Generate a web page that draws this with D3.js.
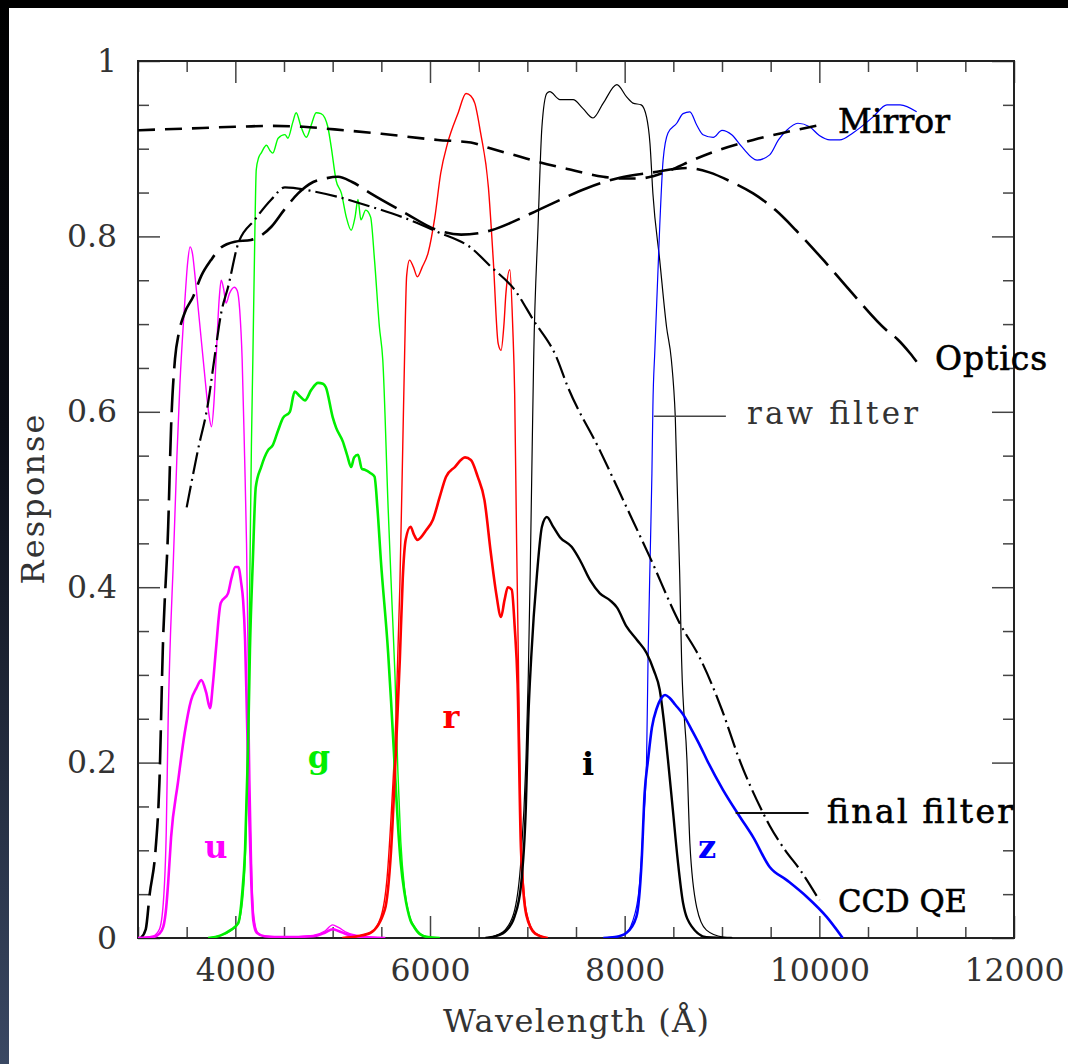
<!DOCTYPE html>
<html>
<head>
<meta charset="utf-8">
<script src="https://cdn.jsdelivr.net/npm/d3@7"></script>
<style>
  body { margin: 0; background: #fff; }
  svg { display: block; }
</style>
</head>
<body>
<svg id="chart" width="1068" height="1064"></svg>
<script>
// wavelength (Angstrom), response
const mirror = [[3000, 0.921], [3500, 0.923], [4000, 0.925], [4370, 0.926], [4700, 0.925], [5020, 0.922], [5500, 0.917],
    [6080, 0.910], [6420, 0.907], [6600, 0.901], [6920, 0.891], [7110, 0.885], [7450, 0.876], [7780, 0.868], [7950, 0.866],
    [8150, 0.866], [8300, 0.869], [8500, 0.877], [8700, 0.887], [8980, 0.899], [9320, 0.910], [9665, 0.919], [10000, 0.927]]

const optics = [[3030, 0.0], [3080, 0.01], [3120, 0.05], [3180, 0.10], [3220, 0.177], [3255, 0.33], [3310, 0.469], [3340, 0.583],
    [3380, 0.66], [3420, 0.69], [3480, 0.713], [3565, 0.731], [3650, 0.755], [3750, 0.773], [3850, 0.787], [3995, 0.794],
    [4160, 0.796], [4370, 0.811], [4500, 0.83], [4645, 0.849], [4800, 0.862], [4920, 0.866], [5055, 0.868], [5200, 0.862],
    [5390, 0.849], [5740, 0.827], [6080, 0.807], [6320, 0.802], [6630, 0.807], [6920, 0.820], [7110, 0.830], [7265, 0.838],
    [7610, 0.855], [7950, 0.867], [8290, 0.873], [8640, 0.878], [8870, 0.873], [9100, 0.862], [9320, 0.849], [9550, 0.83],
    [9760, 0.807], [10050, 0.772], [10340, 0.735], [10690, 0.693], [10800, 0.683], [10930, 0.667], [11000, 0.657]]

const ccdQE = [[3500, 0.491], [3615, 0.556], [3720, 0.61], [3790, 0.665], [3855, 0.713], [3925, 0.742], [4030, 0.792],
    [4200, 0.819], [4370, 0.842], [4510, 0.856], [4820, 0.851], [5055, 0.845], [5390, 0.834], [5740, 0.821], [6080, 0.805],
    [6420, 0.787], [6630, 0.765], [6870, 0.739], [7060, 0.705], [7300, 0.662], [7410, 0.63], [7745, 0.556], [8020, 0.491],
    [8260, 0.434], [8565, 0.359], [8770, 0.32], [9000, 0.26], [9180, 0.203], [9420, 0.143], [9490, 0.128], [9650, 0.10],
    [9800, 0.078], [10000, 0.043]]

const uRaw = [[3000, 0.0], [3150, 0.002], [3220, 0.01], [3260, 0.04], [3290, 0.12], [3310, 0.25], [3335, 0.35], [3360, 0.42],
    [3400, 0.55], [3430, 0.63], [3480, 0.724], [3510, 0.77], [3535, 0.788], [3560, 0.78], [3590, 0.75], [3630, 0.705],
    [3680, 0.648], [3725, 0.6], [3755, 0.583], [3780, 0.61], [3805, 0.667], [3835, 0.73], [3855, 0.750], [3880, 0.74],
    [3905, 0.724], [3940, 0.735], [3990, 0.742], [4020, 0.738], [4045, 0.716], [4070, 0.66], [4095, 0.55], [4115, 0.45],
    [4130, 0.33], [4150, 0.18], [4170, 0.07], [4190, 0.025], [4230, 0.006], [4300, 0.002], [4500, 0.001], [4800, 0.003],
    [4920, 0.008], [5000, 0.015], [5060, 0.012], [5150, 0.006], [5300, 0.002], [5540, 0.0]]
const uFinal = [[3000, 0.0], [3150, 0.001], [3220, 0.005], [3260, 0.013], [3290, 0.035], [3310, 0.063], [3340, 0.115],
    [3410, 0.177], [3480, 0.234], [3545, 0.271], [3600, 0.285], [3650, 0.294], [3700, 0.28], [3740, 0.262], [3770, 0.29],
    [3800, 0.328], [3850, 0.382], [3925, 0.393], [3960, 0.41], [4000, 0.423], [4030, 0.423], [4060, 0.405], [4080, 0.385],
    [4100, 0.34], [4120, 0.25], [4140, 0.15], [4165, 0.06], [4185, 0.02], [4220, 0.006], [4300, 0.002], [4500, 0.001],
    [4800, 0.002], [4920, 0.006], [5000, 0.010], [5060, 0.008], [5150, 0.004], [5300, 0.001], [5540, 0.0]]

const gRaw = [[3720, 0.0], [3850, 0.003], [3950, 0.008], [4030, 0.017], [4080, 0.05], [4110, 0.12], [4130, 0.25], [4150, 0.42],
    [4165, 0.56], [4180, 0.66], [4200, 0.80], [4215, 0.876], [4240, 0.89], [4265, 0.895], [4320, 0.904], [4355, 0.898],
    [4385, 0.895], [4440, 0.912], [4510, 0.916], [4540, 0.912], [4590, 0.93], [4625, 0.941], [4675, 0.925], [4730, 0.913],
    [4780, 0.927], [4830, 0.941], [4880, 0.94], [4920, 0.935], [4950, 0.925], [4985, 0.902], [5035, 0.864], [5090, 0.849],
    [5140, 0.822], [5190, 0.807], [5230, 0.822], [5260, 0.842], [5290, 0.819], [5340, 0.830], [5390, 0.822], [5430, 0.773],
    [5480, 0.697], [5515, 0.659], [5570, 0.49], [5610, 0.38], [5640, 0.30], [5670, 0.19], [5700, 0.11], [5740, 0.055],
    [5790, 0.025], [5840, 0.013], [5900, 0.005], [5980, 0.001], [6100, 0.0]]
const gFinal = [[3720, 0.0], [3850, 0.003], [3950, 0.009], [4030, 0.017], [4070, 0.05], [4100, 0.10], [4130, 0.214],
    [4150, 0.328], [4180, 0.431], [4210, 0.514], [4265, 0.537], [4335, 0.556], [4385, 0.562], [4440, 0.579], [4490, 0.593],
    [4560, 0.600], [4610, 0.623], [4660, 0.618], [4715, 0.613], [4780, 0.625], [4850, 0.633], [4900, 0.632], [4930, 0.628],
    [5000, 0.594], [5035, 0.582], [5105, 0.566], [5150, 0.55], [5190, 0.537], [5220, 0.548], [5260, 0.551], [5300, 0.535],
    [5330, 0.534], [5390, 0.530], [5430, 0.526], [5460, 0.49], [5495, 0.431], [5570, 0.325], [5600, 0.27], [5640, 0.19],
    [5670, 0.13], [5700, 0.085], [5740, 0.05], [5800, 0.02], [5840, 0.012], [5900, 0.004], [5980, 0.001], [6100, 0.0]]

const rRaw = [[5100, 0.0], [5250, 0.002], [5390, 0.006], [5495, 0.024], [5560, 0.07], [5600, 0.138], [5650, 0.252],
    [5690, 0.40], [5720, 0.56], [5740, 0.67], [5760, 0.755], [5790, 0.773], [5830, 0.765], [5870, 0.754], [5920, 0.765],
    [5980, 0.781], [6050, 0.822], [6110, 0.872], [6180, 0.906], [6290, 0.941], [6370, 0.963], [6420, 0.96], [6460, 0.952],
    [6520, 0.918], [6600, 0.856], [6650, 0.773], [6700, 0.678], [6730, 0.670], [6760, 0.70], [6780, 0.735], [6820, 0.762],
    [6850, 0.697], [6870, 0.62], [6890, 0.45], [6905, 0.34], [6935, 0.12], [6990, 0.03], [7080, 0.006], [7210, 0.0]]
const rFinal = [[5100, 0.0], [5250, 0.002], [5390, 0.006], [5535, 0.032], [5600, 0.10], [5650, 0.214], [5690, 0.318],
    [5720, 0.41], [5750, 0.454], [5800, 0.469], [5835, 0.46], [5870, 0.454], [5960, 0.465], [6030, 0.477], [6100, 0.503],
    [6165, 0.526], [6255, 0.537], [6360, 0.548], [6420, 0.545], [6490, 0.526], [6560, 0.499], [6625, 0.439], [6680, 0.393],
    [6730, 0.366], [6765, 0.385], [6800, 0.400], [6840, 0.397], [6870, 0.355], [6900, 0.29], [6935, 0.10], [6990, 0.026],
    [7080, 0.005], [7210, 0.0]]

const iRaw = [[6570, 0.0], [6700, 0.004], [6770, 0.009], [6870, 0.032], [6935, 0.09], [6985, 0.2], [7010, 0.3], [7030, 0.42],
    [7050, 0.56], [7065, 0.66], [7110, 0.811], [7150, 0.925], [7200, 0.963], [7230, 0.965], [7335, 0.956], [7470, 0.956],
    [7570, 0.946], [7675, 0.935], [7780, 0.952], [7920, 0.973], [8020, 0.959], [8085, 0.952], [8170, 0.950], [8225, 0.936],
    [8260, 0.906], [8290, 0.849], [8360, 0.773], [8430, 0.697], [8480, 0.659], [8520, 0.594], [8565, 0.416], [8585, 0.317],
    [8640, 0.203], [8670, 0.108], [8740, 0.035], [8840, 0.009], [9010, 0.001], [9110, 0.0]]
const iFinal = [[6570, 0.0], [6700, 0.003], [6770, 0.007], [6870, 0.025], [6935, 0.06], [6985, 0.15], [7010, 0.25],
    [7040, 0.32], [7100, 0.416], [7150, 0.469], [7200, 0.480], [7265, 0.469], [7335, 0.457], [7455, 0.446], [7540, 0.431],
    [7645, 0.408], [7745, 0.393], [7850, 0.385], [7920, 0.377], [8020, 0.355], [8125, 0.340], [8225, 0.325], [8300, 0.305],
    [8360, 0.283], [8400, 0.25], [8445, 0.203], [8495, 0.146], [8545, 0.089], [8600, 0.04], [8690, 0.013], [8840, 0.001],
    [9100, 0.0]]

const zRaw = [[7780, 0.0], [7985, 0.003], [8085, 0.02], [8160, 0.07], [8190, 0.127], [8225, 0.203], [8240, 0.317],
    [8265, 0.45], [8280, 0.53], [8290, 0.606], [8310, 0.67], [8360, 0.811], [8395, 0.887], [8445, 0.918], [8535, 0.929],
    [8600, 0.94], [8670, 0.942], [8740, 0.927], [8805, 0.916], [8910, 0.913], [9000, 0.921], [9100, 0.916], [9205, 0.902],
    [9360, 0.887], [9490, 0.893], [9580, 0.91], [9665, 0.921], [9780, 0.929], [9900, 0.925], [10000, 0.915], [10110, 0.910],
    [10210, 0.910], [10345, 0.918], [10550, 0.936], [10695, 0.950], [10830, 0.950], [11000, 0.942]]
const zFinal = [[7780, 0.0], [7900, 0.001], [8020, 0.006], [8120, 0.024], [8175, 0.089], [8205, 0.165], [8240, 0.203],
    [8280, 0.24], [8330, 0.262], [8380, 0.274], [8415, 0.277], [8460, 0.274], [8520, 0.266], [8600, 0.255], [8700, 0.235],
    [8780, 0.218], [8845, 0.203], [9010, 0.169], [9185, 0.138], [9320, 0.115], [9490, 0.081], [9665, 0.066], [9870, 0.047],
    [10075, 0.024], [10240, 0.0]]

const xTickLabels = [4000, 6000, 8000, 10000, 12000]
const yTickLabels = [0, 0.2, 0.4, 0.6, 0.8, 1]
const filterNames = ['u', 'g', 'r', 'i', 'z']
const filterLabelPos = [[3801, 0.091], [4860, 0.194], [6216, 0.239], [7623, 0.186], [8846, 0.091]]
const curveNames = ['Mirror', 'Optics', 'raw filter', 'final filter', 'CCD QE']
const curveLabelPos = [[10192, 0.918], [11189, 0.648], [9257, 0.586], [10079, 0.131], [10192, 0.030]]
const pointerLines = [[[8300, 0.595], [9040, 0.595]], [[9140, 0.1425], [9890, 0.1425]]]

const svg = d3.select('#chart')
const width = 1068, height = 1064
const margin = ({ top: 61, right: 54, bottom: 126, left: 138 })
const serif = '"DejaVu Serif", serif'

// page edges (dark frame of the screenshot)
const grad = svg.append('defs').append('linearGradient')
    .attr('id', 'edge').attr('x1', 0).attr('y1', 0).attr('x2', 0).attr('y2', 1)
grad.append('stop').attr('offset', '0%').attr('stop-color', '#000')
grad.append('stop').attr('offset', '40%').attr('stop-color', '#0a0d16')
grad.append('stop').attr('offset', '100%').attr('stop-color', '#3a4863')
svg.append('rect').attr('x', 0).attr('y', 0).attr('width', width).attr('height', height).attr('fill', '#fff')
svg.append('rect').attr('x', 0).attr('y', 0).attr('width', 9).attr('height', height).attr('fill', 'url(#edge)')
svg.append('rect').attr('x', 0).attr('y', 0).attr('width', width).attr('height', 8).attr('fill', '#000')

svg.select('defs').append('clipPath')
    .attr('id', 'clip')
    .append('rect')
    .attr('x', margin.left)
    .attr('y', margin.top)
    .attr('width', width - margin.left - margin.right)
    .attr('height', height - margin.top - margin.bottom)

const x = d3.scaleLinear()
    .domain([3000, 12000])
    .range([margin.left, width - margin.right])
const y = d3.scaleLinear()
    .domain([0, 1])
    .range([height - margin.bottom, margin.top])

const xMinor = d3.range(3000, 12001, 500).filter(v => v % 2000 !== 0)
const yMinor = d3.range(0, 21).map(i => i * 0.05).filter((v, i) => i % 4 !== 0)

const styleAxis = g => {
    g.select('.domain').remove()
    g.selectAll('line').attr('stroke', '#444').attr('stroke-width', 1.5)
    g.selectAll('text').attr('font-family', serif).attr('font-size', 31.5).attr('fill', '#333')
}

// bottom
svg.append('g')
    .attr('transform', `translate(0,${y(0)})`)
    .call(d3.axisBottom(x).tickValues(xTickLabels).tickSizeInner(-22).tickSizeOuter(0).tickPadding(21).tickFormat(d3.format('d')))
    .call(styleAxis)
svg.append('g')
    .attr('transform', `translate(0,${y(0)})`)
    .call(d3.axisBottom(x).tickValues(xMinor).tickSizeInner(-11).tickSizeOuter(0).tickFormat(''))
    .call(styleAxis)
// top
svg.append('g')
    .attr('transform', `translate(0,${y(1)})`)
    .call(d3.axisTop(x).tickValues(xTickLabels).tickSizeInner(-22).tickSizeOuter(0).tickFormat(''))
    .call(styleAxis)
svg.append('g')
    .attr('transform', `translate(0,${y(1)})`)
    .call(d3.axisTop(x).tickValues(xMinor).tickSizeInner(-11).tickSizeOuter(0).tickFormat(''))
    .call(styleAxis)
// left
svg.append('g')
    .attr('transform', `translate(${x(3000)},0)`)
    .call(d3.axisLeft(y).tickValues(yTickLabels).tickSizeInner(-22).tickSizeOuter(0).tickPadding(21).tickFormat(d => d))
    .call(styleAxis)
svg.append('g')
    .attr('transform', `translate(${x(3000)},0)`)
    .call(d3.axisLeft(y).tickValues(yMinor).tickSizeInner(-11).tickSizeOuter(0).tickFormat(''))
    .call(styleAxis)
// right
svg.append('g')
    .attr('transform', `translate(${x(12000)},0)`)
    .call(d3.axisRight(y).tickValues(yTickLabels).tickSizeInner(-22).tickSizeOuter(0).tickFormat(''))
    .call(styleAxis)
svg.append('g')
    .attr('transform', `translate(${x(12000)},0)`)
    .call(d3.axisRight(y).tickValues(yMinor).tickSizeInner(-11).tickSizeOuter(0).tickFormat(''))
    .call(styleAxis)

svg.append('rect')
    .attr('x', x(3000)).attr('y', y(1))
    .attr('width', x(12000) - x(3000)).attr('height', y(0) - y(1))
    .attr('fill', 'none').attr('stroke', '#222').attr('stroke-width', 2)

const line = d3.line()
    .x(d => x(d[0]))
    .y(d => y(d[1]))
    .curve(d3.curveMonotoneX)

const series = [
    { data: uRaw, color: '#ff00ff', w: 1.4 }, { data: gRaw, color: '#00ff00', w: 1.4 },
    { data: rRaw, color: '#ff0000', w: 1.4 }, { data: iRaw, color: '#000', w: 1.2 },
    { data: zRaw, color: '#0000ff', w: 1.2 },
    { data: mirror, color: '#000', w: 2.6, dash: '17,10' },
    { data: optics, color: '#000', w: 2.6, dash: '34,10' },
    { data: ccdQE, color: '#000', w: 2.2, dash: '22,5,2,5' },
    { data: uFinal, color: '#ff00ff', w: 2.6 }, { data: gFinal, color: '#00ee00', w: 2.6 },
    { data: rFinal, color: '#ff0000', w: 2.6 }, { data: iFinal, color: '#000', w: 2.4 },
    { data: zFinal, color: '#0000ff', w: 2.6 }
]

svg.append('g')
    .attr('clip-path', 'url(#clip)')
    .selectAll('path')
    .data(series)
    .join('path')
    .attr('fill', 'none')
    .attr('stroke', d => d.color)
    .attr('stroke-width', d => d.w)
    .attr('stroke-dasharray', d => d.dash || null)
    .attr('stroke-linejoin', 'round')
    .attr('d', d => line(d.data))

svg.selectAll('.pointer')
    .data(pointerLines)
    .join('line')
    .attr('class', 'pointer')
    .attr('x1', d => x(d[0][0])).attr('y1', d => y(d[0][1]))
    .attr('x2', d => x(d[1][0])).attr('y2', d => y(d[1][1]))
    .attr('stroke', (d, i) => i === 0 ? '#444' : '#111')
    .attr('stroke-width', (d, i) => i === 0 ? 1.5 : 2)

// label widths in the original, which uses a wider typeface
const curveLabelWidth = [112, 112, 171, 186, 129]
const curveLabelSize = [33, 33, 31, 33, 32]
svg.selectAll('.curve-label')
    .data(curveNames)
    .join('text')
    .attr('class', 'curve-label')
    .attr('x', (d, i) => x(curveLabelPos[i][0]))
    .attr('y', (d, i) => y(curveLabelPos[i][1]))
    .attr('font-family', serif)
    .attr('font-size', (d, i) => curveLabelSize[i])
    .attr('textLength', (d, i) => curveLabelWidth[i])
    .attr('lengthAdjust', (d, i) => i === 4 ? 'spacingAndGlyphs' : 'spacing')
    .attr('fill', (d, i) => i === 2 ? '#333' : '#000')
    .attr('stroke', (d, i) => i === 2 ? 'none' : '#000')
    .attr('stroke-width', 0.6)
    .text(d => d)

const filterColors = ['#ff00ff', '#00ee00', '#ff0000', '#000', '#0000ff']
svg.selectAll('.filter-label')
    .data(filterNames)
    .join('text')
    .attr('class', 'filter-label')
    .attr('x', (d, i) => x(filterLabelPos[i][0]))
    .attr('y', (d, i) => y(filterLabelPos[i][1]))
    .attr('text-anchor', 'middle')
    .attr('font-family', serif)
    .attr('font-weight', 'bold')
    .attr('font-size', 32)
    .attr('fill', (d, i) => filterColors[i])
    .text(d => d)

svg.append('text')
    .attr('x', 443)
    .attr('y', 1032)
    .attr('font-family', serif)
    .attr('font-size', 32)
    .attr('textLength', 266)
    .attr('lengthAdjust', 'spacing')
    .attr('fill', '#333')
    .text('Wavelength (Å)')

svg.append('text')
    .attr('transform', `translate(44,${(y(0) + y(1)) / 2 + 85}) rotate(-90)`)
    .attr('font-family', serif)
    .attr('font-size', 32)
    .attr('textLength', 170)
    .attr('lengthAdjust', 'spacing')
    .attr('fill', '#333')
    .text('Response')
</script>
</body>
</html>
